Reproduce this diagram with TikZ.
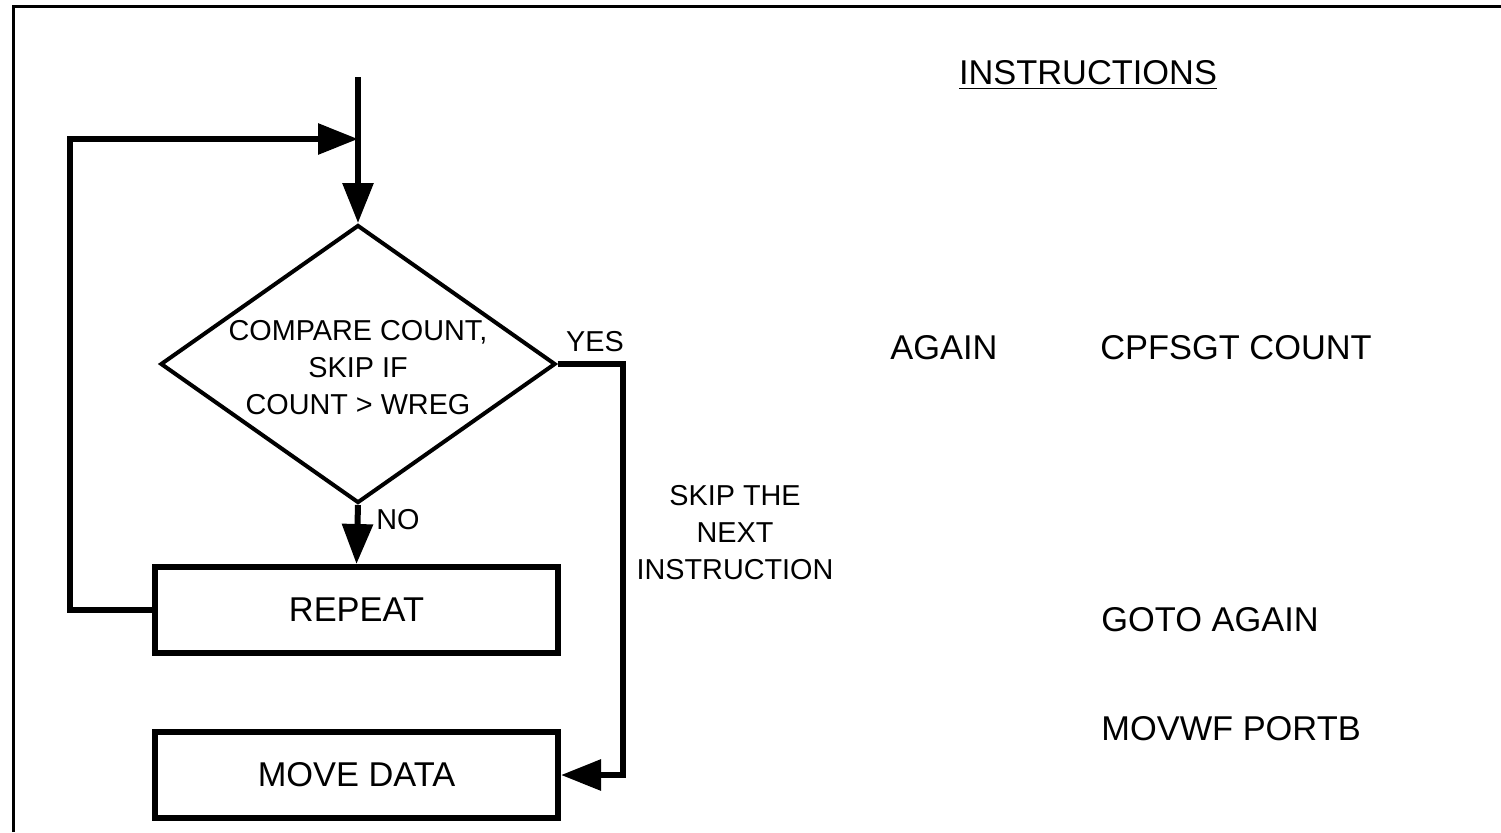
\documentclass[tikz,border=0pt]{standalone}
\usepackage{fontspec}
\setmainfont{Liberation Sans}
\usetikzlibrary{shapes.geometric,arrows.meta}
\newcommand{\bigtxt}{\fontsize{17.2}{20}\selectfont}
\newcommand{\smalltxt}{\fontsize{14.4}{18.5}\selectfont}
\tikzset{
    DM/.style ={diamond, draw, line width=2pt, minimum width=197.5pt, minimum height=139pt, inner sep=0pt},
    RB/.style ={rectangle, draw, line width=3pt, minimum width=201.5pt, minimum height=43pt, font=\bigtxt},
    TB/.style ={inner sep=0pt, font=\bigtxt},
    TS/.style ={inner sep=0pt, font=\smalltxt, align=center},
    AR/.style ={-{Triangle[length=20pt,width=15pt]}, line width=3pt}}
\begin{document}
\begin{tikzpicture}[x=0.5pt,y=-0.5pt]
        \useasboundingbox (0,0) rectangle (1501,832);
        % frame
        \draw[line width=1.5pt] (13,832) -- (13,6) -- (1501,6);
        % flow chart
        \coordinate (start) at (358,77);
        \coordinate (join) at (358,139);
        \coordinate (bend) at (623,364);
        \node[DM] (cmp) at (358,364) {};
        \node[TS] (cmptx) at (358,368) {COMPARE COUNT,\\SKIP IF\\COUNT > WREG};
        \node[RB] (rep) at (356.5,610) {REPEAT};
        \node[RB] (mov) at (356.5,775) {MOVE DATA};
        \node[TS] (yes) at (595,342) {YES};
        \node[TS] (no) at (398,520) {NO};
        \node[TS] (skip) at (735,533) {SKIP THE\\NEXT\\INSTRUCTION};
        \draw[AR] (start) -- (cmp.north);
        \draw[AR] (cmp.south) -- (rep.north);
        \draw[AR] (rep.west) -| (70,139) -- (join);
        \draw[AR] (cmp.east) -- (bend) |- (mov.east);
        % instruction listing
        \node[TB] (head) at (1088,75) {\underline{INSTRUCTIONS}};
        \node[TB,anchor=west] (lbl) at (890,348) {AGAIN};
        \node[TB,anchor=west] (ins1) at (1100,348) {CPFSGT COUNT};
        \node[TB,anchor=west] (ins2) at (1101,620) {GOTO AGAIN};
        \node[TB,anchor=west] (ins3) at (1101,729) {MOVWF PORTB};
    \end{tikzpicture}
\end{document}
